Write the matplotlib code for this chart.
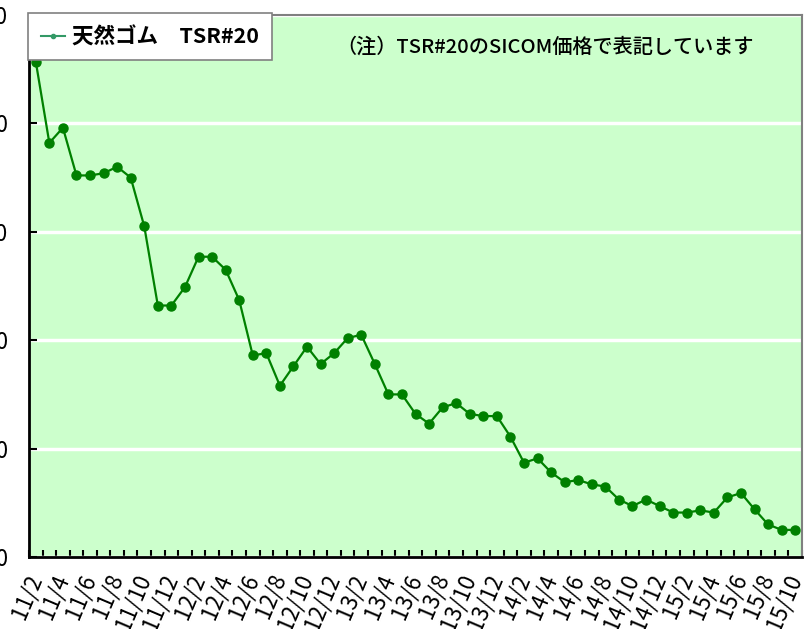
import numpy as np
import matplotlib
matplotlib.use('Agg')
import matplotlib.pyplot as plt
from matplotlib.lines import Line2D
from matplotlib.ticker import FixedLocator
from matplotlib.transforms import ScaledTranslation

plt.rcParams['font.family'] = ['Noto Sans CJK JP', 'DejaVu Sans']

# monthly labels 11/2 .. 15/10
months = []
for yy in range(11, 16):
    for mm in range(1, 13):
        if (yy == 11 and mm < 2) or (yy == 15 and mm > 10):
            continue
        months.append(f'{yy}/{mm}')

prices = [557, 482, 496, 452, 452, 454, 460, 450, 405, 332,
          332, 349, 377, 377, 365, 337, 286, 288, 258, 276,
          294, 278, 288, 302, 305, 278, 250, 250, 232, 223,
          238, 242, 232, 230, 230, 211, 187, 191, 178, 169,
          171, 167, 165, 153, 147, 153, 147, 141, 141, 143,
          141, 155, 159, 144, 130, 125, 125]

y_ticks = [100, 200, 300, 400, 500, 600]
series_name = '天然ゴム　TSR#20'
note = '（注）TSR#20のSICOM価格で表記しています'


def main():
    W, H = 807, 629
    fig = plt.figure(figsize=(W / 100, H / 100), dpi=100)
    ax = fig.add_axes([29 / W, (H - 557) / H, (802 - 29) / W, (557 - 15) / H])
    ax.set_facecolor('#ccffcc')

    x = np.arange(len(prices))
    ax.plot(x, prices, color='#008000', lw=1.6, marker='o', ms=6.5, zorder=3)

    ax.set_xlim(-0.5, len(prices) - 0.5)
    ax.set_ylim(y_ticks[0], y_ticks[-1])
    ax.set_yticks(y_ticks)
    ax.yaxis.grid(True, color='white', lw=2.5)
    ax.set_axisbelow(True)

    ax.set_xticks(x[::2])
    ax.set_xticklabels(months[::2], rotation=67, ha='right', va='center',
                       rotation_mode='anchor', fontsize=16)
    shift = ScaledTranslation(3 / 100, 0, fig.dpi_scale_trans)
    for lab in ax.get_xticklabels():
        lab.set_transform(lab.get_transform() + shift)
    ax.xaxis.set_minor_locator(FixedLocator(np.arange(-0.5, len(prices), 1)))
    ax.tick_params(axis='x', which='major', length=0, pad=13)
    ax.tick_params(axis='x', which='minor', direction='in', length=5, width=1.5)
    ax.tick_params(axis='y', direction='in', length=6, width=1.5, pad=15,
                   labelsize=16)

    for s in ['left', 'bottom']:
        ax.spines[s].set_color('black')
        ax.spines[s].set_linewidth(2)
    for s in ['top', 'right']:
        ax.spines[s].set_color('#808080')
        ax.spines[s].set_linewidth(1.5)

    ax.text(545 / W, 1 - 47 / H, note, transform=fig.transFigure,
            ha='center', va='center', fontsize=14.5, fontweight='medium')

    handle = Line2D([], [], color='#339966', lw=1.5, marker='o', ms=3)
    leg = fig.legend([handle], [series_name], loc='upper left',
                     bbox_to_anchor=(28 / W, 1 - 13 / H), borderaxespad=0,
                     fancybox=False, edgecolor='#808080', framealpha=1,
                     handlelength=1.1, handletextpad=0.35, borderpad=0.6,
                     prop={'size': 15.5, 'weight': 'bold'})
    leg.get_frame().set_linewidth(1.2)

    fig.savefig('out.png', dpi=100)
    plt.close(fig)


if __name__ == '__main__':
    main()
